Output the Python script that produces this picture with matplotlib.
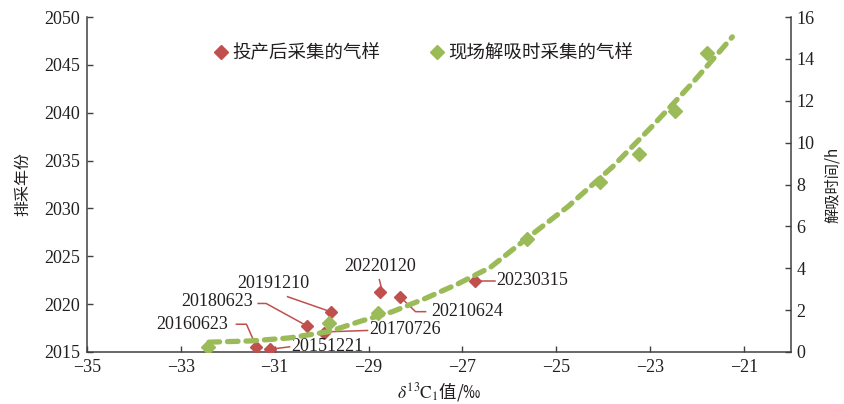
import numpy as np
import matplotlib
matplotlib.use("Agg")
import matplotlib.pyplot as plt
from matplotlib.lines import Line2D

plt.rcParams['font.family'] = ['Liberation Serif', 'Noto Sans CJK SC']
plt.rcParams['mathtext.fontset'] = 'stix'
plt.rcParams['axes.unicode_minus'] = True

# ---- data ----
red_labels = ["20151221", "20160623", "20170726", "20180623", "20191210",
              "20220120", "20210624", "20230315"]
red_d13c = [-31.11, -31.39, -29.96, -30.31, -29.81, -28.76, -28.33, -26.74]
red_year = [2015.28, 2015.55, 2016.99, 2017.72, 2019.21, 2021.30, 2020.78, 2022.45]

green_d13c = [-32.43, -29.84, -28.81, -25.62, -24.06, -23.23, -22.48, -21.79]
green_hours = [0.26, 1.37, 1.85, 5.40, 8.10, 9.46, 11.52, 14.26]

trend_d13c = [-32.4, -31.5, -30.7, -29.85, -29.2, -28.5, -27.8, -27.1, -26.4,
              -25.7, -24.75, -23.8, -22.95, -22.1, -21.25]
trend_hours = [0.47, 0.53, 0.67, 0.97, 1.45, 1.92, 2.55, 3.25, 4.05,
               5.3, 6.95, 8.85, 10.8, 12.85, 15.05]

x_ticks = [-35, -33, -31, -29, -27, -25, -23, -21]
y_ticks = [2015, 2020, 2025, 2030, 2035, 2040, 2045, 2050]
y2_ticks = [0, 2, 4, 6, 8, 10, 12, 14, 16]

RED = '#C0504D'
GREEN = '#9BBB59'
AX = '#404040'
TXT = '#231F20'
NUMSIZE = 13

fig = plt.figure(figsize=(8.45, 4.04), dpi=100)
ax = fig.add_axes([87/845, 52/404, (791-87)/845, (352-17)/404])
ax.set_xlim(-35, -20)
ax.set_ylim(2015, 2050)
ax2 = ax.twinx()
ax2.set_ylim(0, 16)

for a in (ax, ax2):
    a.spines['top'].set_visible(False)
    for s in ('left', 'right', 'bottom'):
        a.spines[s].set_color(AX)
        a.spines[s].set_linewidth(1.1)
    a.tick_params(direction='in', length=4, width=1.0, color=AX,
                  labelsize=NUMSIZE, labelcolor=TXT)
ax.spines['right'].set_visible(False)
ax2.spines['left'].set_visible(False)
ax2.spines['bottom'].set_visible(False)

ax.set_xticks(x_ticks)
ax.set_yticks(y_ticks)
ax2.set_yticks(y2_ticks)
ax.tick_params(axis='y', pad=5)
ax.tick_params(axis='x', pad=5)
ax2.tick_params(axis='y', pad=4)

# red points
ax.plot(red_d13c, red_year, linestyle='none', marker='D', markersize=6.2,
        color=RED, zorder=5)

# green trend + points
ax2.plot(trend_d13c, trend_hours, color=GREEN, linewidth=3.8,
         dashes=(2.0, 1.5), dash_capstyle='round', zorder=3)
ax2.plot(green_d13c, green_hours, linestyle='none', marker='D', markersize=7.2,
         color=GREEN, zorder=4)

# annotations: (text offset px, ha, leader vertices px) relative to point; y up
ann = {
    "20151221": ((22, 3), 'left', [(0, 0), (20, 2.5)]),
    "20160623": ((-28, 22), 'right', [(-20, 22.5), (-10, 22.5), (0, 0)]),
    "20170726": ((46, 3.5), 'left', [(44, 2.5), (0, 1)]),
    "20180623": ((-54, 24), 'right', [(-49, 22.5), (-41, 22.5), (0, 0)]),
    "20191210": ((-21, 28), 'right', [(-43, 15), (0, 0)]),
    "20220120": ((0, 25), 'center', [(-0.5, 12), (1.5, 4)]),
    "20210624": ((31, -14.5), 'left', [(25.5, -15), (15.5, -15), (0, 0)]),
    "20230315": ((22, 0), 'left', [(0, 0), (20, 0)]),
}
sc = 72.0 / fig.dpi
inv = ax.transData.inverted()
for lab, xx, yy in zip(red_labels, red_d13c, red_year):
    (tx, ty), ha, verts = ann[lab]
    ax.annotate(lab, xy=(xx, yy), xytext=(tx * sc, ty * sc),
                textcoords='offset points', ha=ha, va='center',
                fontsize=NUMSIZE, color=TXT, zorder=6)
    base = ax.transData.transform((xx, yy))
    pts = inv.transform(np.array([(base[0] + vx, base[1] + vy) for vx, vy in verts]))
    ax.plot(pts[:, 0], pts[:, 1], color=RED, linewidth=1.1, zorder=2)

# labels
ax.set_ylabel('排采年份', fontsize=11.5, color=TXT, family='Noto Sans CJK SC', labelpad=9)
ax2.set_ylabel('解吸时间/h', fontsize=11, color=TXT, family='Noto Sans CJK SC',
               rotation=90, labelpad=7)
ax.set_xlabel(r'$\delta^{13}\mathrm{C}_1$' + '值/‰', fontsize=12.5, color=TXT,
              family='Noto Sans CJK SC', labelpad=3)

# legend
handles = [
    Line2D([], [], linestyle='none', marker='D', markersize=7, color=RED),
    Line2D([], [], linestyle='none', marker='D', markersize=7, color=GREEN),
]
leg = ax.legend(handles, ['投产后采集的气样', '现场解吸时采集的气样'], ncol=2,
                loc='upper left', bbox_to_anchor=((208 - 87) / 704, 1 - (37 - 17) / 335),
                frameon=False, handlelength=0.6, handletextpad=0.3,
                columnspacing=2.8, borderaxespad=0,
                prop={'family': 'Noto Sans CJK SC', 'size': 13.3})
for t in leg.get_texts():
    t.set_color(TXT)

fig.savefig('out.png', dpi=100)
